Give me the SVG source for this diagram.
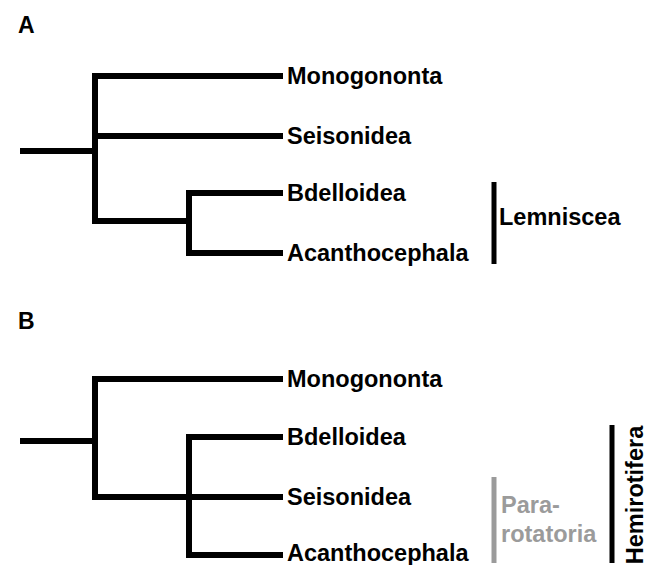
<svg xmlns="http://www.w3.org/2000/svg" width="653" height="565" viewBox="0 0 653 565">
<style>
text{font-family:"Liberation Sans",Arial,sans-serif;font-weight:bold;font-size:23.5px;fill:#000}
.br{fill:none;stroke:#000;stroke-width:6;stroke-linejoin:miter;stroke-linecap:butt}
.bar{stroke:#000;stroke-width:5}
.gray{fill:#9b9b9b}
.panel{font-size:23px}
</style>
<rect width="653" height="565" fill="#fff"/>
<text class="panel" x="18" y="33">A</text>
<text class="panel" x="18" y="329">B</text>
<g id="connectors">
<path class="br" d="M20 151H95"/>
<path class="br" d="M283 76H95V221H189"/>
<path class="br" d="M95 136H283"/>
<path class="br" d="M283 193H189V253H283"/>
<path class="br" d="M20 441H95"/>
<path class="br" d="M283 379H95V497H283"/>
<path class="br" d="M283 437H189V555H283"/>
</g>
<g id="a-monogononta"><text x="287" y="84">Monogononta</text></g>
<g id="a-seisonidea"><text x="287" y="144">Seisonidea</text></g>
<g id="a-bdelloidea"><text x="287" y="201">Bdelloidea</text></g>
<g id="a-acanthocephala"><text x="287" y="261">Acanthocephala</text></g>
<g id="a-lemniscea"><line class="bar" x1="494" y1="182" x2="494" y2="264"/><text x="499" y="225">Lemniscea</text></g>
<g id="b-monogononta"><text x="287" y="387">Monogononta</text></g>
<g id="b-bdelloidea"><text x="287" y="445">Bdelloidea</text></g>
<g id="b-seisonidea"><text x="287" y="505">Seisonidea</text></g>
<g id="b-acanthocephala"><text x="287" y="561">Acanthocephala</text></g>
<g id="b-pararotatoria"><line x1="494" y1="477" x2="494" y2="563" stroke="#9b9b9b" stroke-width="5"/><text class="gray" x="501" y="513">Para-</text><text class="gray" x="501" y="542">rotatoria</text></g>
<g id="b-hemirotifera"><line class="bar" x1="612" y1="425" x2="612" y2="563"/><text transform="translate(643 495) rotate(-90)" text-anchor="middle">Hemirotifera</text></g>
</svg>
